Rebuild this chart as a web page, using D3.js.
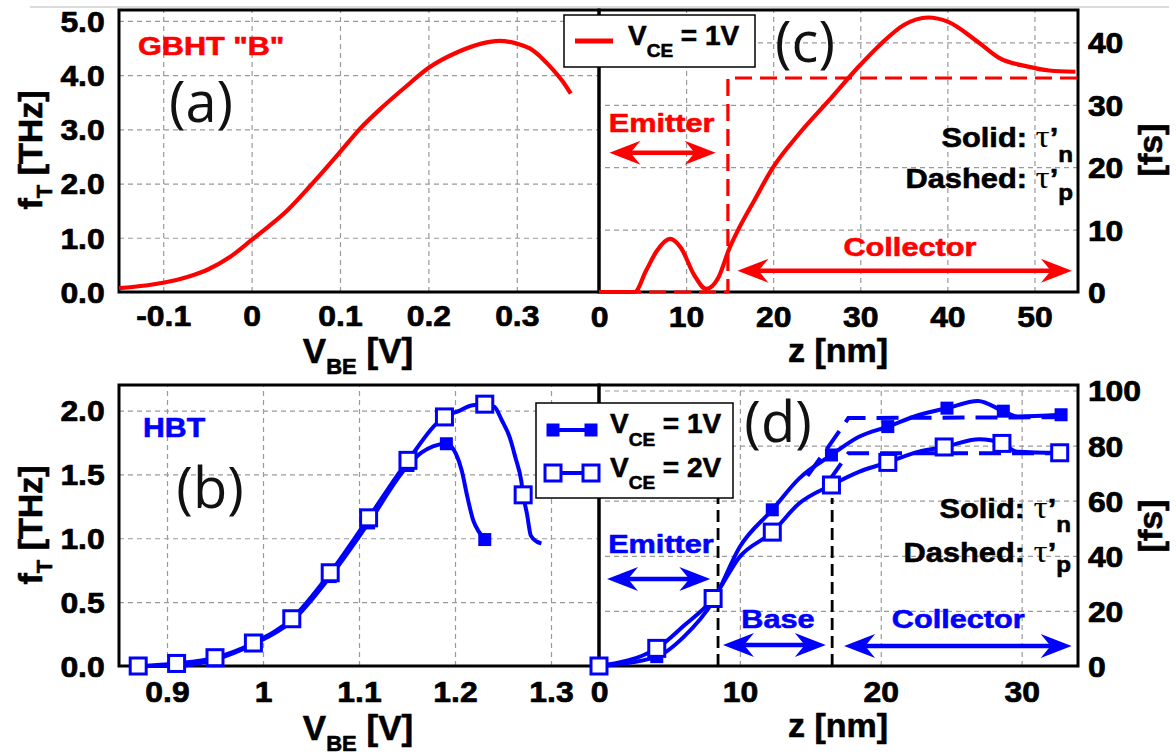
<!DOCTYPE html>
<html><head><meta charset="utf-8">
<script src="https://cdn.jsdelivr.net/npm/d3@7"></script>
<style>body{margin:0;background:#fff}svg{display:block}</style>
</head><body>
<svg id="chart" width="1176" height="755"></svg>
<script>
// ---------------- DATA ----------------
// Panel (a): GBHT "B" fT vs VBE
const aVbe = [-0.15,-0.12,-0.1,-0.07,-0.05,-0.025,0,0.02,0.04,0.066,0.1,0.122,0.148,0.174,0.2,0.234,0.26,0.28,0.3,0.318,0.337,0.352,0.361];
const aFt  = [0.07,0.12,0.17,0.29,0.41,0.64,0.96,1.22,1.5,1.95,2.58,3.0,3.41,3.78,4.13,4.43,4.58,4.63,4.58,4.46,4.17,3.88,3.66];
const aXTicks = [-0.1,0,0.1,0.2,0.3];
const aXLabels = ["-0.1","0","0.1","0.2","0.3"];
const aYTicks = [0,1,2,3,4,5];
const aYLabels = ["0.0","1.0","2.0","3.0","4.0","5.0"];

// Panel (c): GBHT transit delays vs z (VCE = 1V)
const cZ    = [0,2,4.1,5.4,6.65,8.15,9.4,10.9,12.3,13.7,15.0,16.1,17.8,20.0,23.0,26.4,29.8,32.4,35.0,37.8,40.1,43.4,46.1,49.0,51.7,54.7];
const cTauN = [0,0,0,3.4,6.6,8.5,7.1,2.8,0.5,2.3,7.1,10.3,14.6,20.0,25.4,30.7,36.1,39.8,42.8,44.0,43.3,40.2,37.4,36.2,35.5,35.3];
const cZp   = [0,14.8,14.8,55];
const cTauP = [0,0,34.3,34.3];
const cXTicks = [0,10,20,30,40,50];
const cXLabels = ["0","10","20","30","40","50"];
const cYTicks = [0,10,20,30,40];
const cYLabels = ["0","10","20","30","40"];

// Panel (b): HBT fT vs VBE
const bV1Marks = [0.87,0.91,0.95,0.99,1.03,1.07,1.11,1.151,1.191,1.231];
const bF1Marks = [0.0,0.0,0.05,0.17,0.35,0.70,1.12,1.57,1.74,0.99];
const bV1Line  = [0.87,0.91,0.95,0.99,1.03,1.07,1.11,1.151,1.165,1.177,1.191,1.201,1.207,1.213,1.219,1.225,1.231];
const bF1Line  = [0.0,0.0,0.05,0.17,0.35,0.70,1.12,1.57,1.67,1.72,1.74,1.66,1.53,1.32,1.14,1.05,0.99];
const bV2Marks = [0.87,0.91,0.95,0.99,1.03,1.07,1.11,1.151,1.189,1.231,1.271];
const bF2Marks = [0.0,0.02,0.065,0.18,0.37,0.73,1.16,1.61,1.95,2.05,1.34];
const bV2Line  = [0.87,0.91,0.95,0.99,1.03,1.07,1.11,1.151,1.189,1.205,1.217,1.231,1.241,1.249,1.257,1.263,1.269,1.271,1.275,1.279,1.285,1.290];
const bF2Line  = [0.0,0.02,0.065,0.18,0.37,0.73,1.16,1.61,1.95,2.0,2.04,2.05,2.03,1.92,1.79,1.63,1.45,1.34,1.19,1.02,0.975,0.96];
const bXTicks = [0.9,1.0,1.1,1.2,1.3];
const bXLabels = ["0.9","1","1.1","1.2","1.3"];
const bYTicks = [0,0.5,1.0,1.5,2.0];
const bYLabels = ["0.0","0.5","1.0","1.5","2.0"];

// Panel (d): HBT transit delays vs z
const dZ1Marks = [0,4.1,8.1,12.3,16.5,20.5,24.7,28.7,32.8];
const dT1Marks = [0,3.4,23.5,56.7,76.6,86.9,93.6,92.5,91.2];
const dZ1Line  = [0,4.1,6.0,8.1,10,12.3,14.2,16.5,18.45,20.5,22.7,24.7,26.9,28.7,29.7,32.8];
const dT1Line  = [0,3.4,10.5,23.5,43.3,56.7,68,76.6,83.2,86.9,91.1,93.6,96.2,92.5,90.6,91.2];
const dZ2Marks = [0,4.1,8.1,12.3,16.5,20.5,24.5,28.6,32.7];
const dT2Marks = [0,6.4,24.5,48.6,65.7,73.9,79.5,80.8,77.4];
const dZ2Line  = [0,4.1,6.0,8.1,10,12.3,14.2,16.5,18.45,20.5,22.7,24.5,27.0,28.6,29.7,32.7];
const dT2Line  = [0,6.4,14.5,24.5,39.7,48.6,59,65.7,70.5,73.9,77.8,79.5,82.3,80.8,77.8,77.4];
const dZ1p = [14.8,16.3,17.7,33.0];
const dT1p = [69,79.7,90,90.3];
const dZ2p = [16.3,17.7,33.0];
const dT2p = [67,77.2,77.2];
const dBoundaries = [8.45,16.55];
const dXTicks = [0,10,20,30];
const dXLabels = ["0","10","20","30"];
const dYTicks = [0,20,40,60,80,100];
const dYLabels = ["0","20","40","60","80","100"];

// ---------------- DRAWING ----------------
const svg = d3.select("#chart");
const FONT = "'Liberation Sans', Arial, Helvetica, sans-serif";
const RED = "#ff0000", BLUE = "#0000ff";

function addText(parent, x, y, parts, o = {}) {
  const fill = o.fill || "#000";
  const t = parent.append("text")
    .attr("transform", `translate(${x},${y})` + (o.rotate ? ` rotate(${o.rotate})` : "") + ` scale(${o.sx || 1},1)`)
    .attr("text-anchor", o.anchor || "start")
    .attr("font-family", o.family || FONT)
    .attr("font-weight", o.weight || "bold")
    .attr("font-size", o.size || 28)
    .attr("fill", fill);
  if (o.heavy !== false && (o.weight || "bold") === "bold") {
    t.attr("stroke", fill).attr("stroke-width", o.heavy || 0.6).attr("stroke-linejoin", "round");
  }
  let cur = 0;
  parts.forEach(p => {
    if (typeof p === "string") p = {t: p};
    const dy = (p.dy || 0) - cur;
    cur = p.dy || 0;
    const s = t.append("tspan").text(p.t).attr("dy", dy);
    if (p.size) s.attr("font-size", p.size);
    if (p.family) s.attr("font-family", p.family);
    if (p.weight) s.attr("font-weight", p.weight).attr("stroke-width", 0);
  });
  return t;
}

function styleAxis(a) {
  a.select(".domain").remove();
  a.selectAll(".tick line").attr("stroke", "#9a9a9a").attr("stroke-width", 1.2).attr("stroke-dasharray", "5,4");
  a.selectAll(".tick text").attr("font-family", FONT).attr("font-weight", "bold")
    .attr("font-size", 29).attr("fill", "#000").attr("stroke", "#000").attr("stroke-width", 0.7)
    .attr("stroke-linejoin", "round").attr("transform", "scale(1.1,1)");
}

function makePanel(p) {
  const g = svg.append("g");
  const x = d3.scaleLinear().domain(p.xDomain).range([p.left, p.right]);
  const y = d3.scaleLinear().domain(p.yDomain).range([p.bottom, p.top]);
  const w = p.right - p.left, h = p.bottom - p.top;
  const xa = g.append("g").attr("transform", `translate(0,${p.bottom})`)
    .call(d3.axisBottom(x).tickValues(p.xTicks).tickFormat((d, i) => p.xLabels[i]).tickSize(-h));
  styleAxis(xa);
  xa.selectAll(".tick text").attr("y", p.xLabelOffset).attr("dy", 0);
  const ya = g.append("g").attr("transform", `translate(${p.yRight ? p.right : p.left},0)`)
    .call((p.yRight ? d3.axisRight(y) : d3.axisLeft(y)).tickValues(p.yTicks).tickFormat((d, i) => p.yLabels[i]).tickSize(-w));
  styleAxis(ya);
  ya.selectAll(".tick text").attr("x", p.yRight ? 9 : -13).attr("dy", "0.36em");
  g.append("rect").attr("x", p.left).attr("y", p.top).attr("width", w).attr("height", h)
    .attr("fill", "none").attr("stroke", "#000").attr("stroke-width", 3);
  return {g, x, y};
}

function lineOf(panel, xs, ys, curve) {
  return d3.line().x(d => panel.x(d[0])).y(d => panel.y(d[1])).curve(curve || d3.curveMonotoneX)(d3.zip(xs, ys));
}

function dblArrow(g, x1, x2, y, color) {
  const L = 31, H = 12;
  g.append("line").attr("x1", x1 + L * 0.6).attr("x2", x2 - L * 0.6).attr("y1", y).attr("y2", y)
    .attr("stroke", color).attr("stroke-width", 4.5);
  g.append("path").attr("fill", color)
    .attr("d", `M${x2},${y}L${x2 - L},${y - H}L${x2 - L * 0.68},${y}L${x2 - L},${y + H}Z`);
  g.append("path").attr("fill", color)
    .attr("d", `M${x1},${y}L${x1 + L},${y - H}L${x1 + L * 0.68},${y}L${x1 + L},${y + H}Z`);
}

function squares(g, panel, xs, ys, size, filled, color) {
  g.selectAll(null).data(d3.zip(xs, ys)).join("rect")
    .attr("x", d => panel.x(d[0]) - size / 2).attr("y", d => panel.y(d[1]) - size / 2)
    .attr("width", size).attr("height", size)
    .attr("fill", filled ? color : "#fff").attr("stroke", color).attr("stroke-width", filled ? 0 : 3);
}

const TAU = {t: "τ", family: "'Liberation Serif', serif", weight: 400, size: 32};

// thin gray top rule
svg.append("line").attr("x1", 30).attr("x2", 1169).attr("y1", 7).attr("y2", 7).attr("stroke", "#cfcfcf").attr("stroke-width", 1.5);

// ---- Panel (a)
const A = makePanel({left: 119, right: 599, top: 10, bottom: 292, xDomain: [-0.15, 0.393], yDomain: [0, 5.2],
  xTicks: aXTicks, xLabels: aXLabels, yTicks: aYTicks, yLabels: aYLabels, xLabelOffset: 34});
A.g.append("path").attr("d", lineOf(A, aVbe, aFt)).attr("fill", "none").attr("stroke", RED).attr("stroke-width", 4.2);
addText(A.g, 138, 55, ['GBHT "B"'], {size: 25.5, sx: 1.2, fill: RED});
addText(A.g, 201, 122, ["(a)"], {family: "'Open Sans', sans-serif", weight: 400, size: 56, anchor: "middle", fill: "#111"});

// ---- Panel (c)
const C = makePanel({left: 599, right: 1078, top: 10, bottom: 292, xDomain: [0, 55], yDomain: [0, 45.2],
  xTicks: cXTicks, xLabels: cXLabels, yTicks: cYTicks, yLabels: cYLabels, xLabelOffset: 35, yRight: true});
C.g.append("path").attr("d", lineOf(C, cZp, cTauP, d3.curveLinear)).attr("fill", "none").attr("stroke", RED)
  .attr("stroke-width", 3.2).attr("stroke-dasharray", "17,8");
C.g.append("path").attr("d", lineOf(C, cZ, cTauN)).attr("fill", "none").attr("stroke", RED).attr("stroke-width", 4.2);
addText(C.g, 805, 62, ["(c)"], {family: "'Open Sans', sans-serif", weight: 400, size: 56, anchor: "middle", fill: "#111"});
addText(C.g, C.x(7.2), C.y(25.6), ["Emitter"], {size: 26, sx: 1.18, anchor: "middle", fill: RED});
dblArrow(C.g, C.x(1.2), C.x(13.4), C.y(22.3), RED);
addText(C.g, C.x(35.7), C.y(5.8), ["Collector"], {size: 26, sx: 1.18, anchor: "middle", fill: RED});
dblArrow(C.g, C.x(15.9), C.x(54.3), C.y(3.4), RED);
addText(C.g, 1073, 147, ["Solid: ", TAU, "’", {t: "n", dy: 15, size: 22}], {size: 28, sx: 1.1, anchor: "end"});
addText(C.g, 1073, 188, ["Dashed: ", TAU, "’", {t: "p", dy: 12, size: 22}], {size: 28, sx: 1.1, anchor: "end"});

// legend (c)
const legC = svg.append("g");
legC.append("rect").attr("x", 564).attr("y", 15).attr("width", 191).attr("height", 52).attr("fill", "#fff").attr("stroke", "#000").attr("stroke-width", 1.5);
legC.append("line").attr("x1", 575).attr("x2", 613).attr("y1", 41).attr("y2", 41).attr("stroke", RED).attr("stroke-width", 5);
addText(legC, 628, 45, ["V", {t: "CE", dy: 12, size: 19}, " = 1V"], {size: 28});

// ---- Panel (b)
const B = makePanel({left: 119, right: 599, top: 385, bottom: 666, xDomain: [0.85, 1.35], yDomain: [0, 2.2],
  xTicks: bXTicks, xLabels: bXLabels, yTicks: bYTicks, yLabels: bYLabels, xLabelOffset: 36});
B.g.append("path").attr("d", lineOf(B, bV1Line, bF1Line)).attr("fill", "none").attr("stroke", BLUE).attr("stroke-width", 4);
squares(B.g, B, bV1Marks, bF1Marks, 13, true, BLUE);
B.g.append("path").attr("d", lineOf(B, bV2Line, bF2Line)).attr("fill", "none").attr("stroke", BLUE).attr("stroke-width", 4);
squares(B.g, B, bV2Marks, bF2Marks, 16, false, BLUE);
addText(B.g, 143, 437, ["HBT"], {size: 27, sx: 1.12, fill: BLUE});
addText(B.g, 210, 508, ["(b)"], {family: "'Open Sans', sans-serif", weight: 400, size: 56, anchor: "middle", fill: "#111"});

// ---- Panel (d)
const D = makePanel({left: 599, right: 1078, top: 385, bottom: 666, xDomain: [0, 34], yDomain: [0, 102],
  xTicks: dXTicks, xLabels: dXLabels, yTicks: dYTicks, yLabels: dYLabels, xLabelOffset: 36, yRight: true});
D.g.selectAll(null).data(dBoundaries).join("line")
  .attr("x1", d => D.x(d)).attr("x2", d => D.x(d)).attr("y1", D.y(0)).attr("y2", D.y(61))
  .attr("stroke", "#000").attr("stroke-width", 2.8).attr("stroke-dasharray", "12,6");
D.g.append("path").attr("d", lineOf(D, dZ1p, dT1p, d3.curveLinear)).attr("fill", "none").attr("stroke", BLUE).attr("stroke-width", 4).attr("stroke-dasharray", "22,11");
D.g.append("path").attr("d", lineOf(D, dZ2p, dT2p, d3.curveLinear)).attr("fill", "none").attr("stroke", BLUE).attr("stroke-width", 4).attr("stroke-dasharray", "22,11");
D.g.append("path").attr("d", lineOf(D, dZ1Line, dT1Line)).attr("fill", "none").attr("stroke", BLUE).attr("stroke-width", 4);
squares(D.g, D, dZ1Marks, dT1Marks, 13, true, BLUE);
D.g.append("path").attr("d", lineOf(D, dZ2Line, dT2Line)).attr("fill", "none").attr("stroke", BLUE).attr("stroke-width", 4);
squares(D.g, D, dZ2Marks, dT2Marks, 16, false, BLUE);
addText(D.g, 778, 442, ["(d)"], {family: "'Open Sans', sans-serif", weight: 400, size: 56, anchor: "middle", fill: "#111"});
addText(D.g, D.x(4.4), D.y(41), ["Emitter"], {size: 26, sx: 1.18, anchor: "middle", fill: BLUE});
dblArrow(D.g, D.x(0.57), D.x(7.9), D.y(31.6), BLUE);
addText(D.g, D.x(12.7), D.y(13.8), ["Base"], {size: 26, sx: 1.18, anchor: "middle", fill: BLUE});
dblArrow(D.g, D.x(8.8), D.x(16.1), D.y(7.6), BLUE);
addText(D.g, D.x(25.5), D.y(13.8), ["Collector"], {size: 26, sx: 1.18, anchor: "middle", fill: BLUE});
dblArrow(D.g, D.x(17.4), D.x(33.55), D.y(7.3), BLUE);
addText(D.g, 1071, 518, ["Solid: ", TAU, "’", {t: "n", dy: 14, size: 22}], {size: 28, sx: 1.1, anchor: "end"});
addText(D.g, 1071, 562, ["Dashed: ", TAU, "’", {t: "p", dy: 10, size: 22}], {size: 28, sx: 1.1, anchor: "end"});

// legend (b)/(d)
const legB = svg.append("g");
legB.append("rect").attr("x", 536).attr("y", 403).attr("width", 197).attr("height", 95).attr("fill", "#fff").attr("stroke", "#000").attr("stroke-width", 1.5);
legB.append("line").attr("x1", 553).attr("x2", 591).attr("y1", 430).attr("y2", 430).attr("stroke", BLUE).attr("stroke-width", 4);
[553, 591].forEach(cx => legB.append("rect").attr("x", cx - 6.5).attr("y", 430 - 6.5).attr("width", 13).attr("height", 13).attr("fill", BLUE));
legB.append("line").attr("x1", 553).attr("x2", 591).attr("y1", 473).attr("y2", 473).attr("stroke", BLUE).attr("stroke-width", 4);
[553, 591].forEach(cx => legB.append("rect").attr("x", cx - 8).attr("y", 473 - 8).attr("width", 16).attr("height", 16).attr("fill", "#fff").attr("stroke", BLUE).attr("stroke-width", 3));
addText(legB, 610, 433, ["V", {t: "CE", dy: 13, size: 19}, " = 1V"], {size: 28});
addText(legB, 610, 477, ["V", {t: "CE", dy: 12, size: 19}, " = 2V"], {size: 28});

// axis titles
const T = svg.append("g");
addText(T, 42, 150, ["f", {t: "T", dy: 10, size: 22}, " [THz]"], {size: 34, rotate: -90, anchor: "middle"});
addText(T, 42, 525, ["f", {t: "T", dy: 10, size: 22}, " [THz]"], {size: 34, rotate: -90, anchor: "middle"});
addText(T, 1162, 150, ["[fs]"], {size: 34, rotate: -90, anchor: "middle"});
addText(T, 1162, 526, ["[fs]"], {size: 34, rotate: -90, anchor: "middle"});
addText(T, 358, 363, ["V", {t: "BE", dy: 11, size: 22}, " [V]"], {size: 35, anchor: "middle"});
addText(T, 358, 740, ["V", {t: "BE", dy: 11, size: 22}, " [V]"], {size: 35, anchor: "middle"});
addText(T, 838, 362, ["z [nm]"], {size: 34, anchor: "middle"});
addText(T, 838, 737, ["z [nm]"], {size: 34, anchor: "middle"});
</script>
</body></html>
